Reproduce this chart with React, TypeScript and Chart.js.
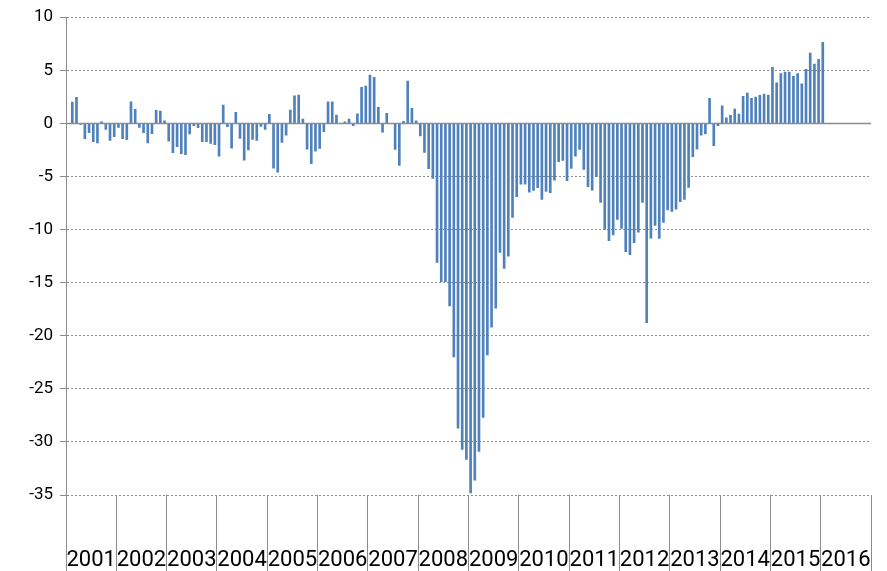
import React, { useEffect, useRef } from 'react';
import { Chart, registerables } from 'chart.js';

Chart.register(...registerables);

// Year categories shown on the axis
const years = ['2001', '2002', '2003', '2004', '2005', '2006', '2007', '2008', '2009', '2010', '2011', '2012', '2013', '2014', '2015', '2016'];
const months = ['01', '02', '03', '04', '05', '06', '07', '08', '09', '10', '11', '12'];

// Monthly values (Jan..Dec); null = no observation
const v2001 = [null, 2.0, 2.45, -0.1, -1.45, -0.88, -1.73, -1.83, 0.15, -0.57, -1.6, -1.26];
const v2002 = [-0.38, -1.45, -1.54, 2.03, 1.32, -0.38, -0.88, -1.83, -0.98, 1.22, 1.16, 0.25];
const v2003 = [-1.67, -2.77, -2.2, -2.86, -2.95, -1.0, -0.22, -0.41, -1.73, -1.73, -1.89, -2.0];
const v2004 = [-3.08, 1.72, -0.32, -2.33, 1.03, -1.41, -3.46, -2.51, -1.51, -1.6, -0.28, -0.57];
const v2005 = [0.85, -4.22, -4.6, -1.8, -1.1, 1.25, 2.6, 2.66, 0.4, -2.42, -3.8, -2.61];
const v2006 = [-2.36, -0.79, 2.04, 2.04, 0.78, 0, 0.15, 0.4, -0.22, 0.9, 3.39, 3.51];
const v2007 = [4.55, 4.33, 1.5, -0.82, 0.94, 0, -2.45, -3.95, 0.19, 3.98, 1.41, 0.25];
const v2008 = [-1.17, -2.73, -4.27, -5.18, -13.1, -14.9, -14.9, -17.2, -22.0, -28.7, -30.7, -31.65];
const v2009 = [-34.8, -33.6, -30.9, -27.7, -21.8, -19.2, -17.4, -12.15, -13.65, -12.5, -8.85, -6.9];
const v2010 = [-5.72, -5.72, -6.47, -6.31, -6.06, -7.16, -6.4, -6.53, -5.34, -3.6, -3.5, -5.4];
const v2011 = [-4.24, -3.08, -2.45, -4.33, -5.97, -6.28, -5.03, -7.44, -9.98, -11.05, -10.5, -9.04];
const v2012 = [-9.89, -12.09, -12.37, -11.24, -10.24, -7.44, -18.78, -10.8, -9.6, -10.83, -9.33, -8.16];
const v2013 = [-8.3, -8.07, -7.38, -7.16, -6.03, -3.14, -2.42, -1.1, -1.0, 2.35, -2.1, -0.22];
const v2014 = [1.66, 0.53, 0.75, 1.35, 0.88, 2.54, 2.85, 2.35, 2.48, 2.65, 2.75, 2.66];
const v2015 = [5.27, 3.82, 4.7, 4.83, 4.83, 4.42, 4.7, 3.73, 5.08, 6.62, 5.58, 6.03];
const v2016 = [7.63, null, null, null, null, null, null, null, null, null, null, null];

// Y axis tick range
const yMin = -35;
const yMax = 10;
const yStep = 5;

const yearSeries = [v2001, v2002, v2003, v2004, v2005, v2006, v2007, v2008, v2009, v2010, v2011, v2012, v2013, v2014, v2015, v2016];

const GRID = '#8c8c8c';

const zeroLinePlugin = {
  id: 'zeroLine',
  afterDatasetsDraw(chart: any) {
    const yScale = chart.scales.y;
    const y = Math.round(yScale.getPixelForValue(0)) + 0.5;
    const { left, right } = chart.chartArea;
    const ctx = chart.ctx;
    ctx.save();
    ctx.strokeStyle = GRID;
    ctx.lineWidth = 1.5;
    ctx.beginPath();
    ctx.moveTo(left, y);
    ctx.lineTo(right, y);
    ctx.stroke();
    ctx.restore();
  },
};

export default function App() {
  const canvasRef = useRef<HTMLCanvasElement | null>(null);

  useEffect(() => {
    if (!canvasRef.current) return;
    const monthLabels = years.flatMap((y) => months.map((m) => `${y}-${m}`));
    const series = yearSeries.flat();

    const chart = new Chart(canvasRef.current, {
      type: 'bar',
      data: {
        labels: monthLabels,
        datasets: [
          {
            data: series as any,
            backgroundColor: '#4F81BD',
            barThickness: 2,
            xAxisID: 'x',
            yAxisID: 'y',
          },
        ],
      },
      options: {
        animation: false,
        responsive: true,
        maintainAspectRatio: false,
        layout: { padding: { top: 13, right: 16, bottom: 0, left: 0 } },
        plugins: { legend: { display: false }, tooltip: { enabled: false } },
        scales: {
          x: { type: 'category', display: false, offset: true },
          years: {
            type: 'category',
            labels: years,
            position: 'bottom',
            offset: true,
            grid: { offset: true, drawOnChartArea: false, drawTicks: true, tickLength: 76, color: GRID, tickColor: GRID },
            border: { display: false },
            ticks: {
              autoSkip: false,
              maxRotation: 0,
              minRotation: 0,
              padding: -24,
              color: '#000',
              font: { family: 'Roboto', size: 22 },
            },
            afterFit: (s: any) => {
              s.height = 76;
            },
          },
          y: {
            min: yMin,
            max: yMax,
            ticks: {
              stepSize: yStep,
              padding: 7,
              color: '#000',
              font: { family: 'Roboto', size: 17 },
              callback: (v: any) => String(v),
            },
            grid: { color: GRID, tickLength: 6, tickColor: GRID, tickBorderDash: [] },
            border: { display: true, color: GRID, dash: [2, 2] },
            afterFit: (s: any) => {
              s.width = 66;
            },
          },
        } as any,
      },
      plugins: [zeroLinePlugin],
    });
    return () => chart.destroy();
  }, []);

  return (
    <div style={{ position: 'absolute', left: 0, top: 0, width: 887, height: 571, background: '#fff' }}>
      <canvas ref={canvasRef} />
    </div>
  );
}
